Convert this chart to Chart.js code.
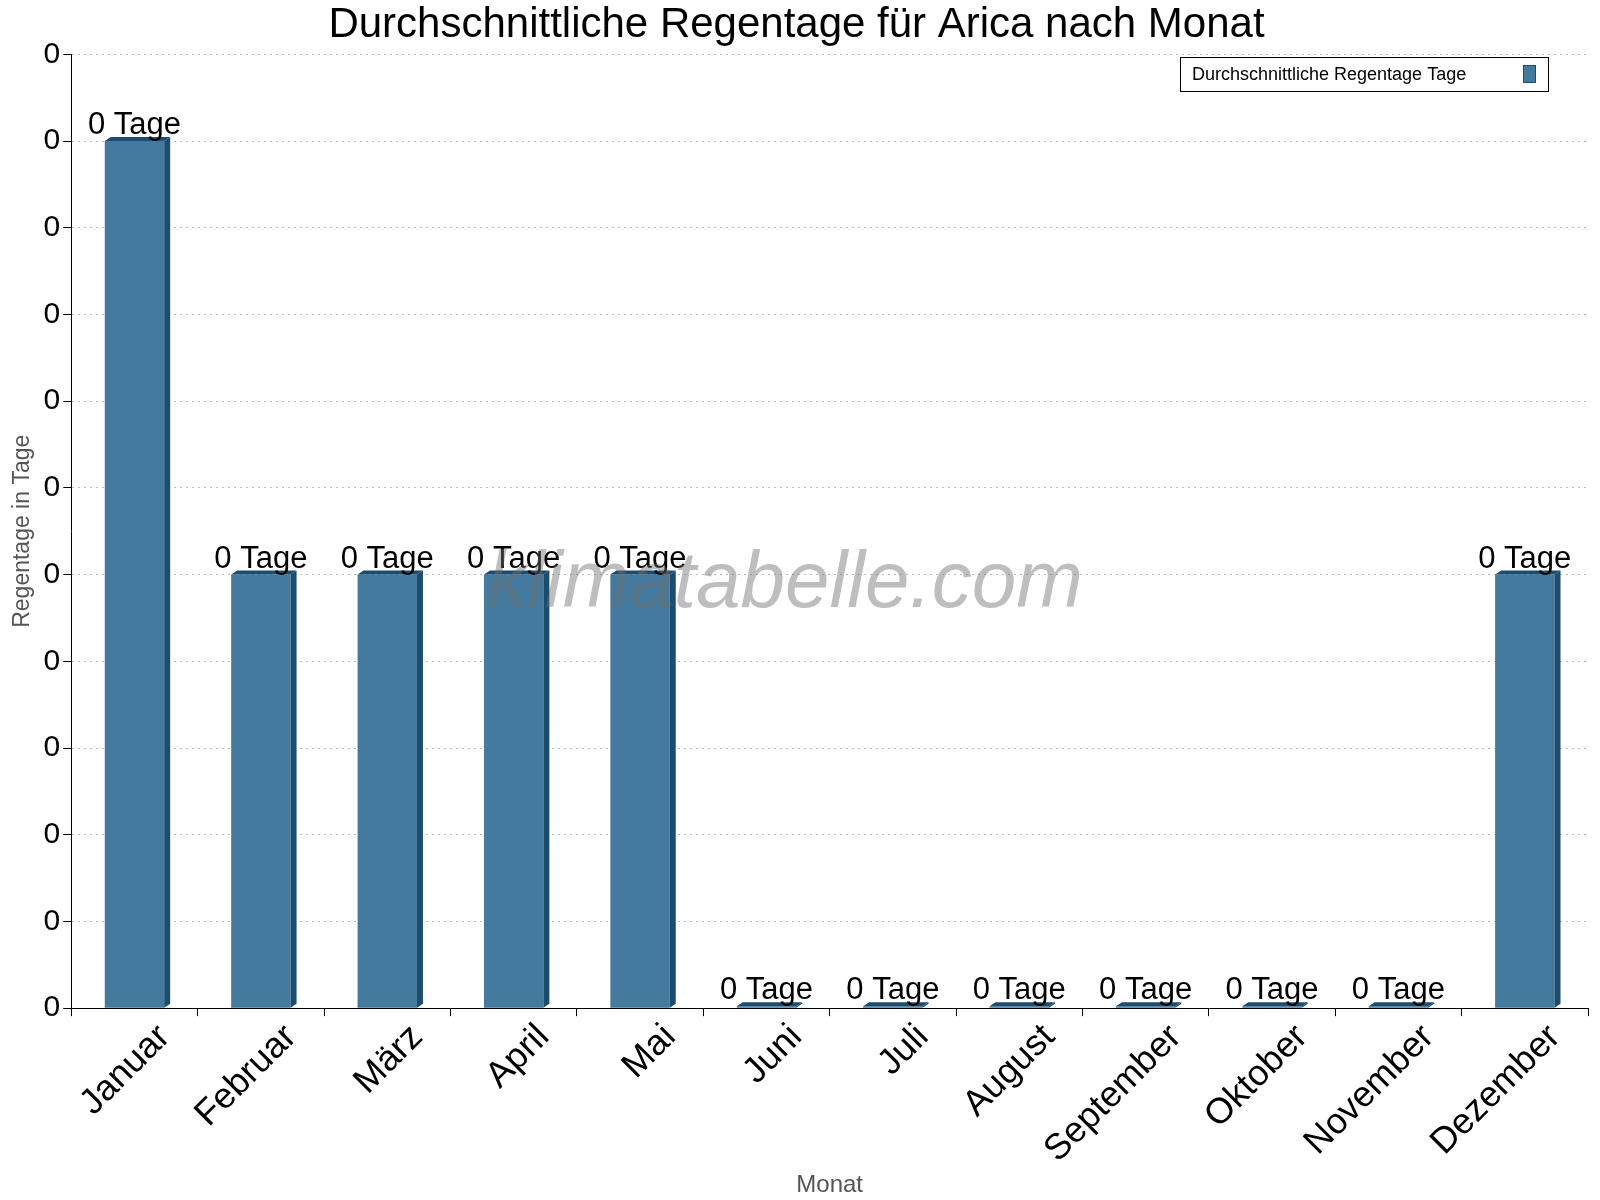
<!DOCTYPE html>
<html><head><meta charset="utf-8">
<script src="https://cdn.jsdelivr.net/npm/chart.js@4/dist/chart.umd.min.js"></script>
<style>body{margin:0;background:#fff}#wrap{width:1600px;height:1200px}</style>
</head><body><div id="wrap"><canvas id="c"></canvas></div>
<script>
const months = ['Januar','Februar','März','April','Mai','Juni','Juli','August','September','Oktober','November','Dezember'];
const rainDays = [0.10,0.05,0.05,0.05,0.05,0,0,0,0,0,0,0.05];
const seriesName = 'Durchschnittliche Regentage Tage';

// 3D-Kante, Werte und Wasserzeichen
const extras = {
    id: 'extras',
    afterDatasetsDraw(chart) {
        const ctx = chart.ctx;
        const meta = chart.getDatasetMeta(0);
        ctx.save();
        meta.data.forEach((bar, i) => {
            const w = bar.width, x0 = bar.x - w / 2, x1 = bar.x + w / 2, top = bar.y, base = bar.base;
            ctx.fillStyle = '#1d4d6e';
            ctx.beginPath();
            ctx.moveTo(x1, top); ctx.lineTo(x1 + 6, top - 4); ctx.lineTo(x1 + 6, base - 4); ctx.lineTo(x1, base); ctx.fill();
            ctx.beginPath();
            ctx.moveTo(x0, top); ctx.lineTo(x0 + 6, top - 4); ctx.lineTo(x1 + 6, top - 4); ctx.lineTo(x1, top); ctx.fill();
            ctx.fillStyle = '#000';
            ctx.font = '31px "Liberation Sans", Arial';
            ctx.textAlign = 'center';
            ctx.textBaseline = 'bottom';
            ctx.fillText(Math.round(rainDays[i]) + ' Tage', bar.x, top);
        });
        ctx.fillStyle = 'rgba(110,110,110,0.45)';
        ctx.font = 'italic 80px "Liberation Sans", Arial';
        ctx.textAlign = 'center';
        ctx.textBaseline = 'middle';
        ctx.fillText('klimatabelle.com', 785, 585);
        // Legende
        const lx = 1180, ly = 57, lw = 368, lh = 34;
        ctx.fillStyle = '#fff'; ctx.fillRect(lx, ly, lw, lh);
        ctx.strokeStyle = '#000'; ctx.lineWidth = 1; ctx.strokeRect(lx + 0.5, ly + 0.5, lw, lh);
        ctx.fillStyle = '#000'; ctx.font = '18px "Liberation Sans", Arial';
        ctx.textAlign = 'left';
        ctx.fillText(seriesName, lx + 12, ly + lh / 2 + 1);
        ctx.fillStyle = '#437a9d'; ctx.fillRect(lx + 343, ly + 8, 12, 17);
        ctx.strokeStyle = '#1d4d6e'; ctx.strokeRect(lx + 343.5, ly + 8.5, 12, 17);
        ctx.restore();
    }
};

new Chart(document.getElementById('c'), {
    type: 'bar',
    data: {
        labels: months,
        datasets: [{
            label: seriesName,
            data: rainDays,
            backgroundColor: '#437a9d',
            borderWidth: 0,
            barPercentage: 0.47,
            categoryPercentage: 1,
            minBarLength: 2
        }]
    },
    options: {
        responsive: true,
        maintainAspectRatio: false,
        animation: false,
        layout: { padding: { right: 12, left: 5 } },
        plugins: {
            legend: { display: false },
            tooltip: { enabled: false },
            title: {
                display: true,
                text: 'Durchschnittliche Regentage für Arica nach Monat',
                color: '#000',
                font: { size: 42, family: '"Liberation Sans", Arial', weight: 'normal' },
                padding: { top: 0, bottom: 4 }
            }
        },
        scales: {
            x: {
                grid: { display: true, drawOnChartArea: false, tickColor: '#000', tickLength: 8 },
                border: { color: '#000' },
                ticks: { color: '#000', maxRotation: 45, minRotation: 45, labelOffset: 30, padding: 0, font: { size: 36, family: '"Liberation Sans", Arial' } },
                title: { display: true, text: 'Monat', color: '#555', font: { size: 24, family: '"Liberation Sans", Arial' }, padding: 0 }
            },
            y: {
                min: 0, max: 0.11,
                grid: { color: '#bbb', tickColor: '#000', tickLength: 8 },
                border: { color: '#000', dash: [2, 4] },
                ticks: { stepSize: 0.01, color: '#000', callback: v => Math.round(v), font: { size: 30, family: '"Liberation Sans", Arial' } },
                title: { display: true, text: 'Regentage in Tage', color: '#555', font: { size: 23, family: '"Liberation Sans", Arial' } }
            }
        }
    },
    plugins: [extras]
});
</script></body></html>
